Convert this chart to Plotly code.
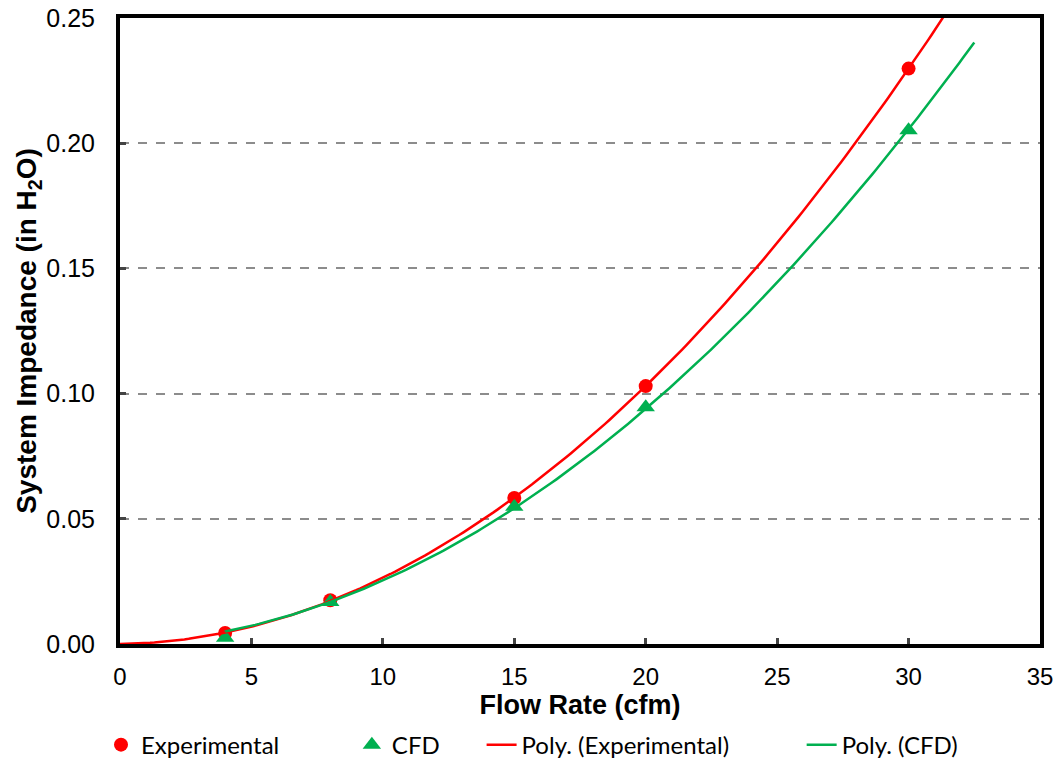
import numpy as np
import plotly.graph_objects as go

flow = [4, 8, 15, 20, 30]
experimental = [0.0044, 0.0175, 0.0583, 0.103, 0.2298]
cfd = [0.0025, 0.0168, 0.0548, 0.0945, 0.2052]
x_ticks = [0, 5, 10, 15, 20, 25, 30, 35]
y_ticks = [0.00, 0.05, 0.10, 0.15, 0.20, 0.25]
exp_trend_range = [0, 32.5]
cfd_trend_range = [4, 32.5]


def poly2_origin_fit(x, y, x_from, x_to):
    """Second-order polynomial trendline with intercept fixed at zero."""
    x = np.asarray(x, float)
    A = np.column_stack([x ** 2, x])
    coef, *_ = np.linalg.lstsq(A, np.asarray(y, float), rcond=None)
    xs = np.linspace(x_from, x_to, 200)
    return xs, coef[0] * xs ** 2 + coef[1] * xs


xe, ye = poly2_origin_fit(flow, experimental, *exp_trend_range)
xc, yc = poly2_origin_fit(flow, cfd, *cfd_trend_range)

fig = go.Figure()
fig.add_trace(go.Scatter(x=flow, y=experimental, mode="markers",
                         name="Experimental" + "\u00a0" * 11,
                         marker=dict(symbol="circle", size=14, color="#ff0000")))
fig.add_trace(go.Scatter(x=flow, y=cfd, mode="markers", name="CFD" + "\u00a0" * 6,
                         marker=dict(symbol="triangle-up", size=16, color="#00b050")))
fig.add_trace(go.Scatter(x=xe, y=ye, mode="lines",
                         name="Poly. (Experimental)" + "\u00a0" * 11,
                         line=dict(color="#ff0000", width=2.5)))
fig.add_trace(go.Scatter(x=xc, y=yc, mode="lines", name="Poly. (CFD)",
                         line=dict(color="#00b050", width=2.5)))

fig.update_layout(
    width=1064, height=759,
    margin=dict(l=120, r=24, t=18, b=115),
    paper_bgcolor="white", plot_bgcolor="white",
    font=dict(family="Arial, Liberation Sans", color="black", size=24),
    showlegend=True,
    legend=dict(orientation="h", xref="container", x=0.5, xanchor="center",
                yref="container", y=0.048, yanchor="top",
                font=dict(family="Lato, Open Sans", size=24), traceorder="normal"),
    xaxis=dict(range=[0, 35], tickvals=x_ticks, ticks="inside", ticklen=6, tickwidth=3,
               ticklabelstandoff=8, automargin=False,
               showline=True, linewidth=4, linecolor="black", mirror=True,
               showgrid=False, zeroline=False, tickfont=dict(size=24),
               title=dict(text="<b>Flow Rate (cfm)</b>", font=dict(size=27), standoff=4)),
    yaxis=dict(range=[0, 0.25], tickvals=y_ticks, tickformat=".2f", ticks="inside",
               ticklen=6, tickwidth=3, tickfont=dict(size=25), ticklabelstandoff=16,
               automargin=False,
               showline=True, linewidth=4, linecolor="black", mirror=True,
               showgrid=True, gridcolor="#8c8c8c", griddash="dash", gridwidth=1.5,
               zeroline=False,
               title=dict(text="<b>System Impedance (in H<sub>2</sub>O)</b>",
                          font=dict(size=28), standoff=2)),
)

fig.write_html("out.html")
